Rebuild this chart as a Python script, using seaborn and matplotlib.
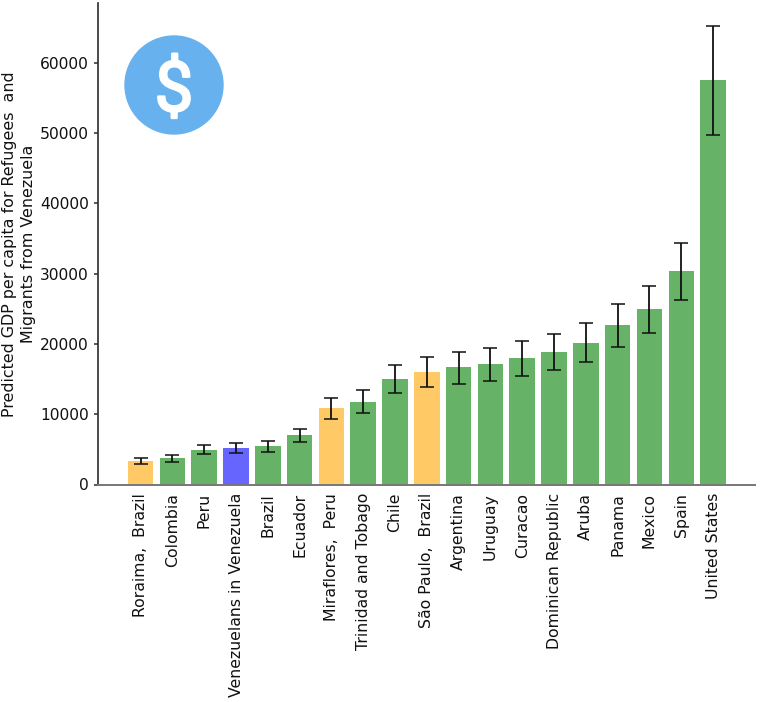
import matplotlib
matplotlib.use('Agg')
import matplotlib.patheffects as pe
import matplotlib.pyplot as plt
import numpy as np
import pandas as pd
import seaborn as sns
from matplotlib.patches import Circle

# valores
places = ['Roraima,  Brazil', 'Colombia', 'Peru', 'Venezuelans in Venezuela', 'Brazil', 'Ecuador',
          'Miraflores,  Peru', 'Trinidad and Tobago', 'Chile', 'São Paulo,  Brazil', 'Argentina',
          'Uruguay', 'Curacao', 'Dominican Republic', 'Aruba', 'Panama', 'Mexico', 'Spain', 'United States']
gdp = [3390, 3770, 4910, 5200, 5480, 7050, 10930, 11790, 15000, 16010, 16680, 17100, 18060, 18900,
       20190, 22660, 24940, 30390, 57580]
err_low = [2920, 3200, 4300, 4440, 4580, 6000, 9280, 10130, 12980, 13830, 14350, 14780, 15490, 16340,
           17440, 19570, 21520, 26260, 49820]
err_high = [3730, 4200, 5580, 5860, 6150, 7940, 12310, 13410, 17010, 18150, 18860, 19430, 20430, 21380,
            22950, 25740, 28260, 34380, 65270]
groups = ['orange', 'green', 'green', 'blue', 'green', 'green', 'orange', 'green', 'green', 'orange',
          'green', 'green', 'green', 'green', 'green', 'green', 'green', 'green', 'green']

sns.set_theme(style='ticks')
plt.rcParams['font.family'] = ['DejaVu Sans']

df = pd.DataFrame({'place': places, 'gdp': gdp, 'group': groups})

fig = plt.figure(figsize=(7.6, 7.02), dpi=100)
ax = fig.add_axes([98 / 760, (702 - 484.5) / 702, (755 - 98) / 760, 481.5 / 702])

sns.barplot(data=df, x='place', y='gdp', hue='group', dodge=False, legend=False, width=0.8, saturation=1,
            palette={'green': 'green', 'orange': 'orange', 'blue': 'blue'}, alpha=0.6, errorbar=None,
            linewidth=0, ax=ax)

low = np.array(gdp) - np.array(err_low)
high = np.array(err_high) - np.array(gdp)
ax.errorbar(np.arange(len(places)), gdp, yerr=[low, high], fmt='none', ecolor='#111111', elinewidth=1.3,
            capsize=5, capthick=1.1)

ax.set_xlim(-1.34, 19.32)
ax.set_ylim(0, 68540)
ax.set_xlabel('')
ax.set_ylabel('Predicted GDP per capita for Refugees  and\nMigrants from Venezuela', fontsize=11.4, color='#111111',
              labelpad=3, linespacing=1.3)
ax.tick_params(axis='x', rotation=90, labelsize=11.3, length=0, pad=6, labelcolor='#111111')
ax.tick_params(axis='y', labelsize=11.2, length=3, color='#444444', labelcolor='#111111')
ax.set_yticks(range(0, 70000, 10000))
sns.despine(ax=ax)
ax.spines['left'].set_color('#333333')
ax.spines['bottom'].set_color('#777777')
ax.spines['bottom'].set_linewidth(1.4)

# icono del dolar
icon = fig.add_axes([125 / 760, (702 - 134) / 702, 98 / 760, 98 / 702])
icon.set_xlim(-1, 1)
icon.set_ylim(-1, 1)
icon.axis('off')
icon.add_patch(Circle((0, 0), 1, color='#66b1ee', clip_on=False))
icon.text(0, 0, '$', color='white', fontsize=50, ha='center', va='center_baseline', family='Roboto',
          path_effects=[pe.withStroke(linewidth=1.6, foreground='white')])

fig.savefig('out.png', dpi=100)
